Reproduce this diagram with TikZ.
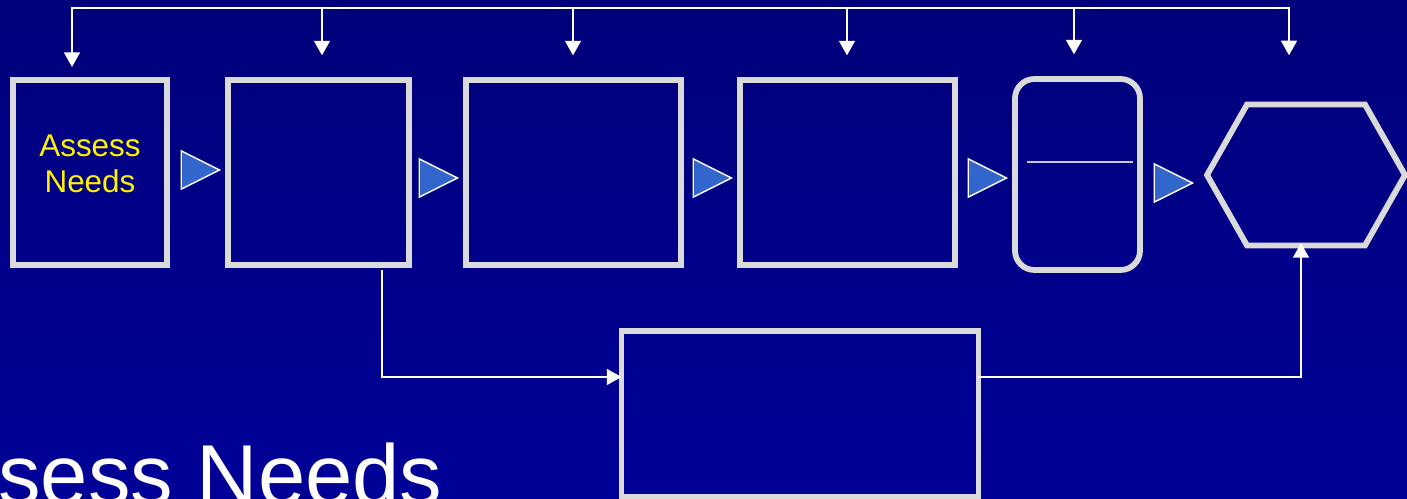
\documentclass[tikz,border=0pt]{standalone}
\usepackage{fontspec}
\setmainfont{Liberation Sans}
\usepackage{tikz}
\usetikzlibrary{shapes.geometric, arrows.meta}
\usepackage{xcolor}
\definecolor{fundoA}{RGB}{0,0,122}
\definecolor{fundoB}{RGB}{0,0,152}
\definecolor{borda}{RGB}{218,218,218}
\definecolor{seta}{RGB}{51,102,204}
\definecolor{risco}{RGB}{200,200,232}

\begin{document}
\begin{tikzpicture}[x=0.02cm, y=-0.02cm,
    caixa/.style={draw=borda, line width=3.3pt, inner sep=0pt, outer sep=0pt},
    fio/.style={draw=white, line width=1.4pt},
    ponta/.style={-{Triangle[length=8.3pt, width=8.9pt]}},
    passo/.style={isosceles triangle, isosceles triangle stretches, draw=white,
        fill=seta, line width=0.8pt, minimum width=21.8pt, minimum height=21.8pt,
        inner sep=0pt, anchor=west}]
    % Fundo
    \fill[top color=fundoA, bottom color=fundoB] (0,0) rectangle (1407,499);
    \useasboundingbox (0,0) rectangle (1407,499);
    % Caixas
    \node[caixa, minimum width=3.08cm, minimum height=3.7cm, text=yellow,
        align=center, text depth=0.34cm,
        font=\fontsize{17.9}{20.6}\selectfont] (b1) at (90,172.5) {Assess\\Needs};
    \node[caixa, minimum width=3.62cm, minimum height=3.7cm] (b2) at (318.5,172.5) {};
    \node[caixa, minimum width=4.3cm, minimum height=3.7cm] (b3) at (573.5,172.5) {};
    \node[caixa, minimum width=4.3cm, minimum height=3.7cm] (b4) at (847.5,172.5) {};
    \node[caixa, rounded corners=11pt, minimum width=2.5cm, minimum height=3.82cm]
        (b5) at (1077.5,174.5) {};
    \draw[risco, line width=1.1pt] (1027,162) -- (1133,162);
    \node[caixa, minimum width=7.14cm, minimum height=3.33cm] (bot) at (800,414) {};
    % Hexagono
    \node[inner sep=0pt, outer sep=0pt, minimum width=3.96cm, minimum height=2.82cm]
        (hex) at (1306,175) {};
    \draw[caixa] (hex.west) -- ([xshift=0.8cm]hex.north west)
        -- ([xshift=-0.8cm]hex.north east) -- (hex.east)
        -- ([xshift=-0.8cm]hex.south east) -- ([xshift=0.8cm]hex.south west) -- cycle;
    % Triangulos
    \node[passo] (t1) at (180.5,170) {};
    \node[passo] (t2) at (418.5,178) {};
    \node[passo] (t3) at (692.5,178) {};
    \node[passo] (t4) at (967.5,178) {};
    \node[passo] (t5) at (1153.5,183) {};
    % Barra de cima
    \draw[fio, {Triangle[length=8.3pt, width=8.9pt]}-{Triangle[length=8.3pt, width=8.9pt]},
        shorten <=7.4pt, shorten >=28pt]
        (72,8 |- b1.north) -- (72,8) -- (1289,8) -- (1289,8 |- hex.north);
    \foreach \x/\alvo in {322/b2, 573/b3, 847/b4, 1074/b5}
        \draw[fio, ponta, shorten >=14pt] (\x,8) -- (\x,8 |- \alvo.north);
    % Desvio por baixo
    \coordinate (saida) at (382,270);
    \coordinate (nivel) at (0,377);
    \draw[fio, ponta] (saida) |- (bot.west |- nivel);
    \draw[fio, ponta, shorten >=-1.4pt] (bot.east |- nivel) -| ([xshift=-5*0.02cm]hex.south);
    % Titulo
    \node[anchor=base west, text=white, inner sep=0pt,
        font=\fontsize{48.4}{58}\selectfont] (titulo) at (-2,505) {sess Needs};
\end{tikzpicture}
\end{document}
